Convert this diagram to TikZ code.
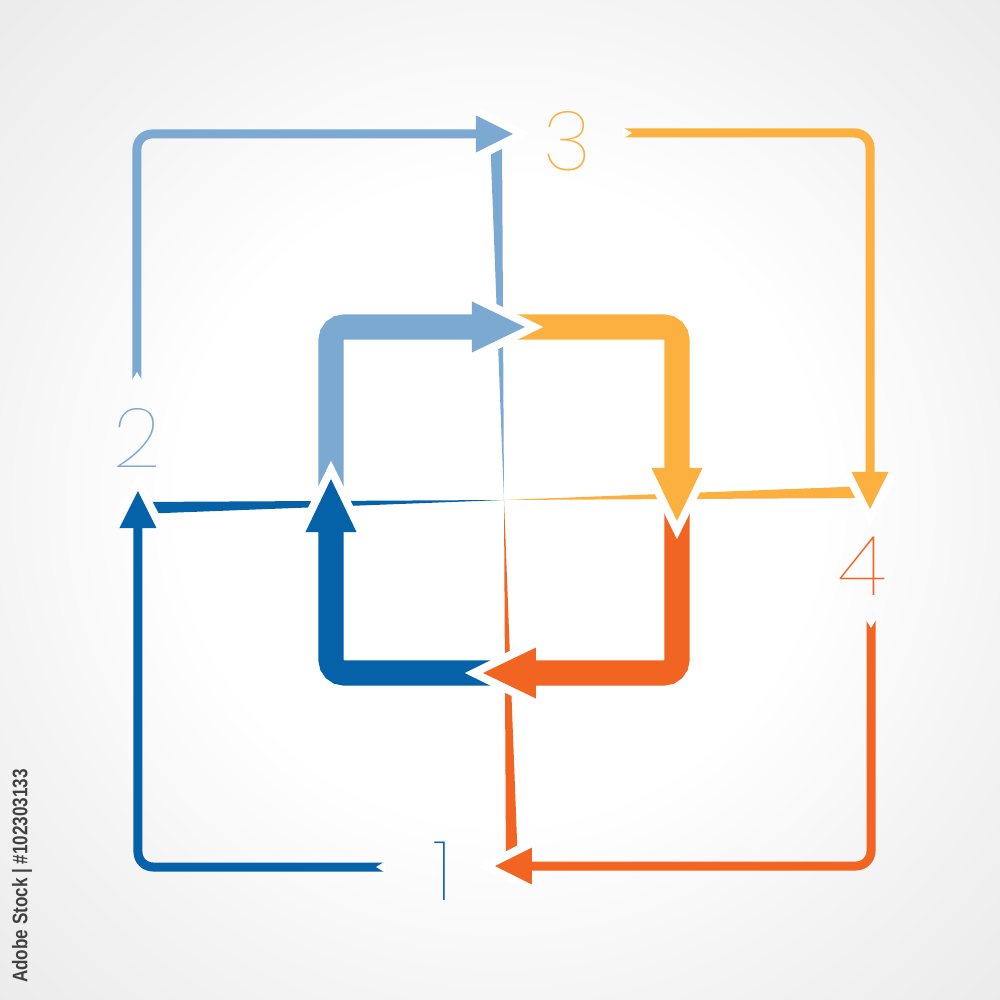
\documentclass[tikz,border=0pt]{standalone}
\usepackage{fontspec}
\usepackage{tikz}

\pgfdeclarelayer{front}
\pgfsetlayers{main,front}

\definecolor{lblue}{HTML}{7BA9D2}
\definecolor{dblue}{HTML}{0562A8}
\definecolor{amber}{HTML}{FBB040}
\definecolor{rust}{HTML}{F16422}

\pgfdeclareradialshading{paper}{\pgfpoint{0bp}{0bp}}{color(0bp)=(white); color(16bp)=(white); color(25bp)=(black!4); color(36bp)=(black!8); color(50bp)=(black!8)}

\IfFontExistsTF{Poppins Thin}{\newfontfamily\digitfont{Poppins Thin}}{%
  \IfFontExistsTF{Fira Sans Light}{\newfontfamily\digitfont{Fira Sans Light}}{\newfontfamily\digitfont{DejaVu Sans}}}
\newfontfamily\markfont{Liberation Sans}

\begin{document}
\begin{tikzpicture}[x=0.01cm, y=0.01cm,
    outer/.style={line width=0.09cm, rounded corners=0.15cm},
    inner/.style={line width=0.25cm, rounded corners=0.13cm},
    rim/.style={white, line width=0.16cm, line join=miter},
    digit/.style={inner sep=0pt, font=\digitfont\fontsize{23.6}{24}\selectfont}]
      \shade[shading=paper] (-504,-500) rectangle (496,500);
      \useasboundingbox (-504,-500) rectangle (496,500);

      \begin{scope}
        \fill [lblue] (0,0) -- (-14,366) -- (-2,366) -- cycle;
        \coordinate (lbTail) at (-367,120);
        \coordinate (lbBend) at (-367,366);
        \coordinate (lbEnd) at (-27,366);
        \draw [outer, lblue] (lbTail) -- (lbBend) -- (lbEnd);
        \fill [white] (-372.5,119) -- (-367,128) -- (-361.5,119) -- cycle;
        \coordinate (lbStart) at (-173,0);
        \coordinate (lbCorner) at (-173,173);
        \coordinate (lbBase) at (-31,173);
        \draw [inner, lblue] (lbStart) -- (lbCorner) -- (lbBase);
        \begin{pgfonlayer}{front}
          \draw [rim] (-27,384.5) -- (9,366) -- (-27,347.5);
          \fill [lblue] (-28,384.5) -- (9,366) -- (-28,347.5) -- cycle;
          \draw [rim] (-31,198.5) -- (21,173) -- (-31,147.5);
          \fill [lblue] (-32,198.5) -- (21,173) -- (-32,147.5) -- cycle;
        \end{pgfonlayer}
      \end{scope}

      \begin{scope}[rotate=-90]
        \fill [amber] (0,0) -- (-14,366) -- (-2,366) -- cycle;
        \coordinate (amTail) at (-367,120);
        \coordinate (amBend) at (-367,366);
        \coordinate (amEnd) at (-27,366);
        \draw [outer, amber] (amTail) -- (amBend) -- (amEnd);
        \fill [white] (-372.5,119) -- (-367,128) -- (-361.5,119) -- cycle;
        \coordinate (amStart) at (-173,0);
        \coordinate (amCorner) at (-173,173);
        \coordinate (amBase) at (-31,173);
        \draw [inner, amber] (amStart) -- (amCorner) -- (amBase);
        \begin{pgfonlayer}{front}
          \draw [rim] (-27,384.5) -- (9,366) -- (-27,347.5);
          \fill [amber] (-28,384.5) -- (9,366) -- (-28,347.5) -- cycle;
          \draw [rim] (-31,198.5) -- (21,173) -- (-31,147.5);
          \fill [amber] (-32,198.5) -- (21,173) -- (-32,147.5) -- cycle;
        \end{pgfonlayer}
      \end{scope}

      \begin{scope}[rotate=-180]
        \fill [rust] (0,0) -- (-14,366) -- (-2,366) -- cycle;
        \coordinate (ruTail) at (-367,120);
        \coordinate (ruBend) at (-367,366);
        \coordinate (ruEnd) at (-27,366);
        \draw [outer, rust] (ruTail) -- (ruBend) -- (ruEnd);
        \fill [white] (-372.5,119) -- (-367,128) -- (-361.5,119) -- cycle;
        \coordinate (ruStart) at (-173,0);
        \coordinate (ruCorner) at (-173,173);
        \coordinate (ruBase) at (-31,173);
        \draw [inner, rust] (ruStart) -- (ruCorner) -- (ruBase);
        \begin{pgfonlayer}{front}
          \draw [rim] (-27,384.5) -- (9,366) -- (-27,347.5);
          \fill [rust] (-28,384.5) -- (9,366) -- (-28,347.5) -- cycle;
          \draw [rim] (-31,198.5) -- (21,173) -- (-31,147.5);
          \fill [rust] (-32,198.5) -- (21,173) -- (-32,147.5) -- cycle;
        \end{pgfonlayer}
      \end{scope}

      \begin{scope}[rotate=-270]
        \fill [dblue] (0,0) -- (-14,366) -- (-2,366) -- cycle;
        \coordinate (dbTail) at (-367,120);
        \coordinate (dbBend) at (-367,366);
        \coordinate (dbEnd) at (-27,366);
        \draw [outer, dblue] (dbTail) -- (dbBend) -- (dbEnd);
        \fill [white] (-372.5,119) -- (-367,128) -- (-361.5,119) -- cycle;
        \coordinate (dbStart) at (-173,0);
        \coordinate (dbCorner) at (-173,173);
        \coordinate (dbBase) at (-31,173);
        \draw [inner, dblue] (dbStart) -- (dbCorner) -- (dbBase);
        \begin{pgfonlayer}{front}
          \draw [rim] (-27,384.5) -- (9,366) -- (-27,347.5);
          \fill [dblue] (-28,384.5) -- (9,366) -- (-28,347.5) -- cycle;
          \draw [rim] (-31,198.5) -- (21,173) -- (-31,147.5);
          \fill [dblue] (-32,198.5) -- (21,173) -- (-32,147.5) -- cycle;
        \end{pgfonlayer}
      \end{scope}

      \node [digit, lblue] (two) at (-366.5,62.5) {2};
      \node [digit, amber] (three) at (63,359) {3};
      \node [digit, rust] (four) at (358,-66) {4};
      \node [digit, dblue] (one) at (-61,-371) {1};

      \node [inner sep=0pt, text=black!75, rotate=90, xscale=0.81,
        font=\markfont\bfseries\fontsize{6}{7}\selectfont] (stock) at (-482,-376) {Adobe Stock | \#102303133};
    \end{tikzpicture}
\end{document}
